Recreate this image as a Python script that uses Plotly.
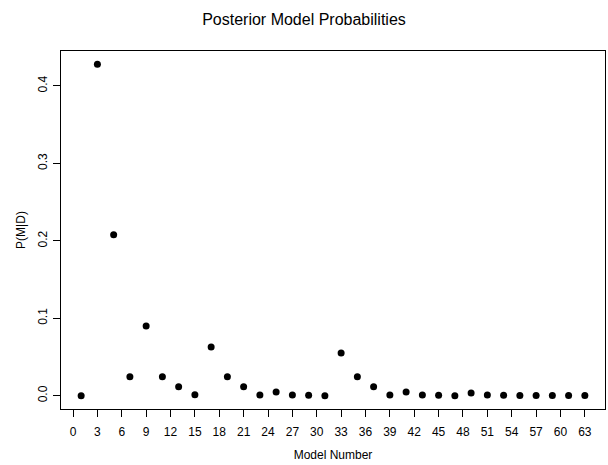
import plotly.graph_objects as go

model_number = list(range(1, 64, 2))
prob = [0.0, 0.428, 0.208, 0.0245, 0.090, 0.0245, 0.0116, 0.0013,
        0.0628, 0.0245, 0.0116, 0.001, 0.0047, 0.001, 0.0005, 0.0,
        0.0551, 0.0245, 0.0116, 0.001, 0.0047, 0.001, 0.0005, 0.0,
        0.0035, 0.001, 0.0005, 0.0002, 0.0004, 0.0003, 0.0003, 0.0003]
x_ticks = list(range(0, 64, 3))
y_ticks = [0.0, 0.1, 0.2, 0.3, 0.4]

font_family = "Liberation Sans, Arial, Helvetica, sans-serif"

fig = go.Figure(go.Scatter(
    x=model_number, y=prob, mode="markers",
    marker=dict(color="black", size=7, line=dict(width=0)),
    showlegend=False, hoverinfo="x+y",
))

fig.update_layout(
    width=608, height=465,
    margin=dict(l=61, r=3, t=51, b=56),
    paper_bgcolor="white", plot_bgcolor="white",
    font=dict(family=font_family, color="black", size=12),
    title=dict(text="Posterior Model Probabilities", x=0.5, xanchor="center",
               y=1 - 19 / 465, yanchor="middle",
               font=dict(size=16, family=font_family, color="black")),
)

fig.update_xaxes(
    range=[-1.48, 65.48], tickmode="array", tickvals=x_ticks,
    ticktext=[str(v) for v in x_ticks],
    showgrid=False, zeroline=False, showline=True, linecolor="black",
    linewidth=1, mirror=True, ticks="outside", ticklen=7, tickwidth=1,
    tickcolor="black", tickfont=dict(size=12), ticklabelstandoff=5,
    title=dict(text="Model Number", font=dict(size=12), standoff=12),
)
fig.update_yaxes(
    range=[-0.0171, 0.4451], tickmode="array", tickvals=y_ticks,
    ticktext=[f"{v:.1f}" for v in y_ticks], tickangle=-90,
    showgrid=False, zeroline=False, showline=True, linecolor="black",
    linewidth=1, mirror=True, ticks="outside", ticklen=7, tickwidth=1,
    tickcolor="black", tickfont=dict(size=12), ticklabelstandoff=1,
    title=dict(text="P(M|D)", font=dict(size=12), standoff=8),
)

fig.write_html("out.html")
